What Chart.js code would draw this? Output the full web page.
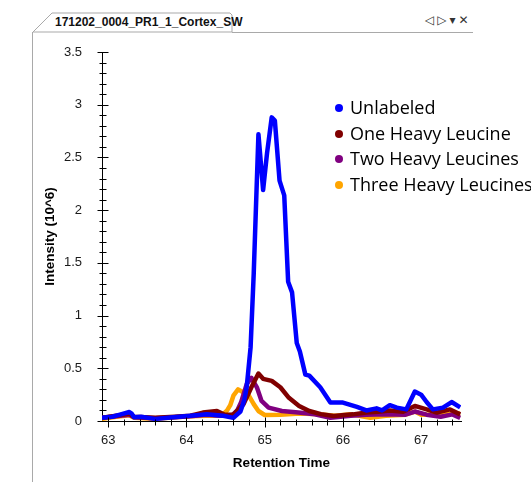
<!DOCTYPE html>
<html>
<head>
<meta charset="utf-8">
<script src="https://cdn.jsdelivr.net/npm/chart.js@4.4.1/dist/chart.umd.min.js"></script>
<style>
  html, body { margin: 0; padding: 0; background: #fff; }
  body { width: 531px; height: 482px; overflow: hidden; position: relative; font-family: 'Liberation Sans', Arial, sans-serif; }
  #frame { position: absolute; left: 32px; top: 32px; width: 0; height: 460px; border-left: 1px solid #a9a9a9; }
  #tabline { position: absolute; left: 232px; top: 32px; width: 241px; height: 0; border-top: 1px solid #a9a9a9; }
  #tabsvg { position: absolute; left: 0; top: 0; }
  #tabtext { position: absolute; left: 55px; top: 15px; font: bold 12px 'Liberation Sans', Arial, sans-serif; color: #111; white-space: nowrap; }
  #tabicons { position: absolute; left: 425px; top: 13px; font: 12px 'DejaVu Sans', sans-serif; color: #333; white-space: nowrap; }
  #tabicons span { display: inline-block; margin-right: 3px; }
  #chart { position: absolute; left: 0; top: 0; }
  #legend { position: absolute; left: 333px; top: 95px; font: 18px 'Open Sans', sans-serif; color: #000; white-space: nowrap; }
  .row { height: 25.5px; line-height: 25.5px; position: relative; padding-left: 17px; }
  .dot { position: absolute; left: 2px; top: 9px; width: 8px; height: 8px; border-radius: 50%; }
</style>
</head>
<body>
<svg id="tabsvg" width="531" height="40">
  <polygon points="33,32 52,13 230,13 232,15 232,32" fill="#fff" stroke="#a9a9a9" stroke-width="1"/>
</svg>
<div id="frame"></div>
<div id="tabline"></div>
<div id="tabtext">171202_0004_PR1_1_Cortex_SW</div>
<div id="tabicons"><span>◁</span><span>▷</span><span>▾</span><span>✕</span></div>
<canvas id="chart" width="531" height="482"></canvas>
<div id="legend"></div>
<script>
// tick values
const xTicks = [63, 64, 65, 66, 67];
const yTicks = [0, 0.5, 1, 1.5, 2, 2.5, 3, 3.5];

const seriesNames = ['Unlabeled', 'One Heavy Leucine', 'Two Heavy Leucines', 'Three Heavy Leucines'];
const seriesColors = ['#0000ff', '#800000', '#800080', '#ffa500'];

// retention time (min) / intensity (10^6)
const unlabeledTime = [62.92, 63.05, 63.15, 63.27, 63.3, 63.33, 63.42, 63.6, 63.83, 64.05, 64.26, 64.47, 64.6, 64.69, 64.74, 64.77, 64.82, 64.86, 64.92, 64.98, 65.03, 65.09, 65.13, 65.19, 65.25, 65.3, 65.35, 65.41, 65.45, 65.52, 65.57, 65.71, 65.84, 66.0, 66.18, 66.3, 66.43, 66.5, 66.6, 66.69, 66.81, 66.92, 67.0, 67.07, 67.15, 67.28, 67.39, 67.5];
const unlabeledValue = [0.03, 0.04, 0.06, 0.085, 0.07, 0.035, 0.04, 0.02, 0.035, 0.05, 0.065, 0.05, 0.03, 0.09, 0.2, 0.32, 0.70, 1.40, 2.72, 2.19, 2.54, 2.88, 2.85, 2.28, 2.14, 1.32, 1.22, 0.74, 0.66, 0.44, 0.43, 0.32, 0.175, 0.175, 0.133, 0.1, 0.12, 0.1, 0.15, 0.127, 0.11, 0.28, 0.25, 0.18, 0.11, 0.127, 0.18, 0.13];

const oneHeavyTime = [62.92, 63.1, 63.27, 63.33, 63.6, 63.85, 64.05, 64.21, 64.39, 64.49, 64.6, 64.73, 64.83, 64.92, 64.98, 65.09, 65.2, 65.31, 65.44, 65.57, 65.72, 65.88, 66.13, 66.3, 66.45, 66.6, 66.77, 66.92, 67.07, 67.2, 67.37, 67.5];
const oneHeavyValue = [0.03, 0.05, 0.07, 0.04, 0.03, 0.04, 0.05, 0.08, 0.095, 0.06, 0.06, 0.16, 0.32, 0.45, 0.4, 0.38, 0.32, 0.22, 0.143, 0.095, 0.065, 0.048, 0.063, 0.08, 0.087, 0.1, 0.087, 0.143, 0.11, 0.08, 0.11, 0.063];

const twoHeavyTime = [62.92, 63.1, 63.27, 63.33, 63.6, 63.85, 64.05, 64.25, 64.45, 64.58, 64.65, 64.7, 64.77, 64.83, 64.9, 64.96, 65.05, 65.22, 65.43, 65.64, 65.84, 66.1, 66.3, 66.55, 66.8, 66.92, 67.07, 67.25, 67.4, 67.5];
const twoHeavyValue = [0.03, 0.045, 0.06, 0.035, 0.025, 0.035, 0.045, 0.06, 0.05, 0.05, 0.1, 0.18, 0.35, 0.41, 0.32, 0.19, 0.127, 0.095, 0.08, 0.063, 0.03, 0.05, 0.06, 0.063, 0.06, 0.09, 0.06, 0.04, 0.063, 0.03];

const threeHeavyTime = [62.92, 63.1, 63.27, 63.33, 63.6, 63.85, 64.05, 64.25, 64.45, 64.52, 64.56, 64.6, 64.66, 64.73, 64.79, 64.86, 64.92, 65.0, 65.2, 65.45, 65.7, 65.9, 66.1, 66.35, 66.55, 66.8, 66.92, 67.0, 67.2, 67.5];
const threeHeavyValue = [0.02, 0.04, 0.055, 0.03, 0.02, 0.035, 0.045, 0.05, 0.05, 0.1, 0.15, 0.24, 0.3, 0.27, 0.25, 0.16, 0.095, 0.057, 0.06, 0.07, 0.063, 0.05, 0.063, 0.03, 0.05, 0.06, 0.09, 0.06, 0.06, 0.07];

const seriesTimes = [unlabeledTime, oneHeavyTime, twoHeavyTime, threeHeavyTime];
const seriesValues = [unlabeledValue, oneHeavyValue, twoHeavyValue, threeHeavyValue];

function toPoints(times, values) {
  return times.map((t, i) => ({ x: t, y: values[i] }));
}

// minor / major tick marks crossing the axes, like the original viewer
const tickMarks = {
  id: 'tickMarks',
  afterDraw(chart) {
    const ctx = chart.ctx;
    const xs = chart.scales.x, ys = chart.scales.y;
    const ax = Math.round(xs.left) + 0.5;
    const ay = Math.round(ys.bottom) + 0.5;
    ctx.save();
    ctx.strokeStyle = '#000';
    ctx.lineWidth = 1;
    ctx.beginPath();
    for (let i = 0; i <= 35; i++) {
      const py = Math.round(ys.getPixelForValue(i / 10)) + 0.5;
      const len = i % 5 === 0 ? 5 : 3;
      ctx.moveTo(ax - len, py);
      ctx.lineTo(ax + len + 1, py);
    }
    for (let i = 0; i <= 22; i++) {
      const v = 63 + i * 0.2;
      if (v > xs.max) break;
      const px = Math.round(xs.getPixelForValue(v)) + 0.5;
      const major = i % 5 === 0;
      ctx.moveTo(px, ay - (major ? 4 : 2));
      ctx.lineTo(px, ay + (major ? 6 : 4));
    }
    ctx.stroke();
    ctx.restore();
  }
};

const tickFont = { family: "'Liberation Sans', Arial, sans-serif", size: 13 };
const titleFont = { family: "'Liberation Sans', Arial, sans-serif", size: 13.5, weight: 'bold' };

const chart = new Chart(document.getElementById('chart'), {
  type: 'line',
  data: {
    datasets: seriesNames.map((name, i) => ({
      label: name,
      data: toPoints(seriesTimes[i], seriesValues[i]),
      borderColor: seriesColors[i],
      backgroundColor: seriesColors[i],
      borderWidth: 4.5,
      borderJoinStyle: 'round',
      pointRadius: 0,
      tension: 0,
      fill: false
    }))
  },
  options: {
    responsive: false,
    animation: false,
    layout: { padding: { left: 0, top: 52, right: 70, bottom: 0 } },
    plugins: { legend: { display: false }, tooltip: { enabled: false } },
    scales: {
      x: {
        type: 'linear',
        min: 62.92,
        max: 67.51,
        afterBuildTicks: s => { s.ticks = xTicks.map(v => ({ value: v })); },
        afterFit: s => { s.height = 61; },
        grid: { display: false, drawTicks: false },
        border: { display: true, color: '#000', width: 1 },
        ticks: { font: tickFont, color: '#1a1a1a', padding: 12, maxRotation: 0, callback: v => String(v) },
        title: { display: true, text: 'Retention Time', font: titleFont, color: '#000', padding: { top: 0, bottom: 11 } }
      },
      y: {
        type: 'linear',
        min: 0,
        max: 3.5,
        afterBuildTicks: s => { s.ticks = yTicks.map(v => ({ value: v })); },
        afterFit: s => { s.width = 102; },
        grid: { display: false, drawTicks: false },
        border: { display: true, color: '#000', width: 1 },
        ticks: { font: tickFont, color: '#1a1a1a', padding: 20, callback: v => String(v) },
        title: { display: true, text: 'Intensity (10^6)', font: titleFont, color: '#000', padding: { top: 42, bottom: 0 } }
      }
    }
  },
  plugins: [tickMarks]
});

// legend sits inside the plot, upper right
const legend = document.getElementById('legend');
seriesNames.forEach((name, i) => {
  const row = document.createElement('div');
  row.className = 'row';
  row.innerHTML = '<span class="dot" style="background:' + seriesColors[i] + '"></span>' + name;
  legend.appendChild(row);
});
</script>
</body>
</html>
